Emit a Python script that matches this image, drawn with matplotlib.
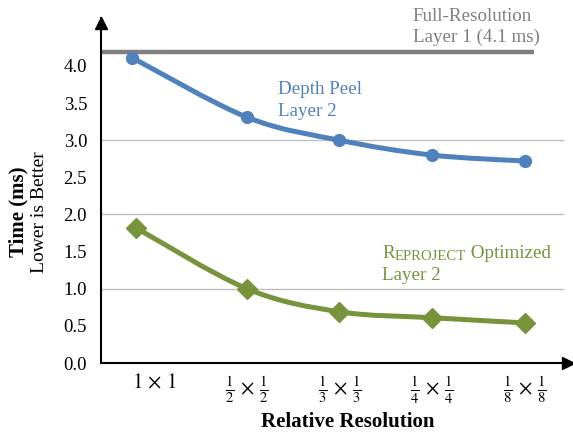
import numpy as np
import matplotlib
matplotlib.use("Agg")
import matplotlib.pyplot as plt
from matplotlib.path import Path
from matplotlib.patches import PathPatch

plt.rcParams['font.family'] = ['Liberation Serif', 'DejaVu Serif']
plt.rcParams['mathtext.fontset'] = 'stix'

# data
tick_pos = [0, 1, 2, 3, 4]
tick_labels = [r'$1\,\times\,1$', r'$\frac{1}{2}\,\times\,\frac{1}{2}$', r'$\frac{1}{3}\,\times\,\frac{1}{3}$',
               r'$\frac{1}{4}\,\times\,\frac{1}{4}$', r'$\frac{1}{8}\,\times\,\frac{1}{8}$']
peel_x = [-0.24, 1, 2, 3, 4]
peel_y = [4.11, 3.31, 3.00, 2.80, 2.72]
reproj_x = [-0.20, 1, 2, 3, 4]
reproj_y = [1.82, 1.00, 0.69, 0.61, 0.54]
full_res = 4.19

blue = '#4F81BD'
green = '#77933C'
gray = '#808080'


def smooth_path(xs, ys):
    # excel-like smoothed line: catmull-rom turned into cubic beziers
    pts = np.column_stack([xs, ys])
    verts = [pts[0]]
    codes = [Path.MOVETO]
    n = len(pts)
    for i in range(n - 1):
        p0 = pts[max(i - 1, 0)]
        p1 = pts[i]
        p2 = pts[i + 1]
        p3 = pts[min(i + 2, n - 1)]
        verts += [p1 + (p2 - p0) / 6, p2 - (p3 - p1) / 6, p2]
        codes += [Path.CURVE4] * 3
    return Path(verts, codes)


fig = plt.figure(figsize=(5.73, 4.34), dpi=100)
ax = fig.add_axes([101 / 573, 1 - 363 / 434, (573 - 101) / 573, (363 - 18) / 434])
ax.set_xlim(-0.578, 4.524)
ax.set_ylim(0, 4.646)

for s in ['top', 'right']:
    ax.spines[s].set_visible(False)
for s in ['left', 'bottom']:
    ax.spines[s].set_linewidth(1.5)
    ax.spines[s].set_color('black')

# arrow heads on the axes
ax.plot(1 - 5 / 472, 0, '>', color='black', ms=9, transform=ax.transAxes, clip_on=False)
ax.plot(0, 1 - 5 / 345, '^', color='black', ms=9, transform=ax.transAxes, clip_on=False)

ax.hlines([1, 2, 3], -0.578, 4.43, color='#BFBFBF', lw=1, zorder=1)
ax.hlines(full_res, -0.578, 4.1, color=gray, lw=3.2, zorder=2)

ax.add_patch(PathPatch(smooth_path(peel_x, peel_y), fill=False, ec=blue, lw=3.6,
                       capstyle='round', zorder=3))
ax.plot(peel_x, peel_y, 'o', color=blue, ms=8.5, zorder=4)
ax.add_patch(PathPatch(smooth_path(reproj_x, reproj_y), fill=False, ec=green, lw=3.6,
                       capstyle='round', zorder=3))
ax.plot(reproj_x, reproj_y, 'D', color=green, ms=10.5, zorder=4)

ax.set_yticks([0, 0.5, 1, 1.5, 2, 2.5, 3, 3.5, 4])
ax.set_yticklabels(['%.1f' % v for v in [0, 0.5, 1, 1.5, 2, 2.5, 3, 3.5, 4]], fontsize=13.5)
ax.set_xticks(tick_pos)
ax.set_xticklabels(tick_labels, fontsize=15)
ax.tick_params(axis='y', length=0, pad=10)
ax.tick_params(axis='x', length=0, pad=8)

# labels in the plot
fs = 13.7
ax.text(2.79, 4.606, 'Full-Resolution', color='#7F7F7F', fontsize=fs, va='baseline', clip_on=False)
ax.text(2.79, 4.323, 'Layer 1 (4.1 ms)', color='#7F7F7F', fontsize=fs, va='baseline', clip_on=False)
ax.text(1.335, 3.623, 'Depth Peel', color=blue, fontsize=fs, va='baseline')
ax.text(1.335, 3.327, 'Layer 2', color=blue, fontsize=fs, va='baseline')

# small caps "Reproject"
t1 = ax.text(2.46, 1.414, 'R', color=green, fontsize=fs, va='baseline')
t2 = ax.annotate('EPROJECT', xy=(1, 0), xycoords=t1, color=green, fontsize=10.6,
                 va='bottom', ha='left', xytext=(0, -0.7), textcoords='offset points')
ax.annotate(' Optimized', xy=(1, 0), xycoords=t2, color=green, fontsize=fs,
            va='bottom', ha='left', xytext=(0, 0.7), textcoords='offset points')
ax.text(2.46, 1.118, 'Layer 2', color=green, fontsize=fs, va='baseline')

fig.text(348 / 573, 1 - 422 / 434, 'Relative Resolution', fontsize=15, fontweight='bold',
         ha='center', va='center')
fig.text(18 / 573, 1 - 212 / 434, 'Time (ms)', fontsize=15, fontweight='bold',
         rotation=90, ha='center', va='center')
fig.text(39 / 573, 1 - 212 / 434, 'Lower is Better', fontsize=14,
         rotation=90, ha='center', va='center')

fig.savefig('out.png', dpi=100)
